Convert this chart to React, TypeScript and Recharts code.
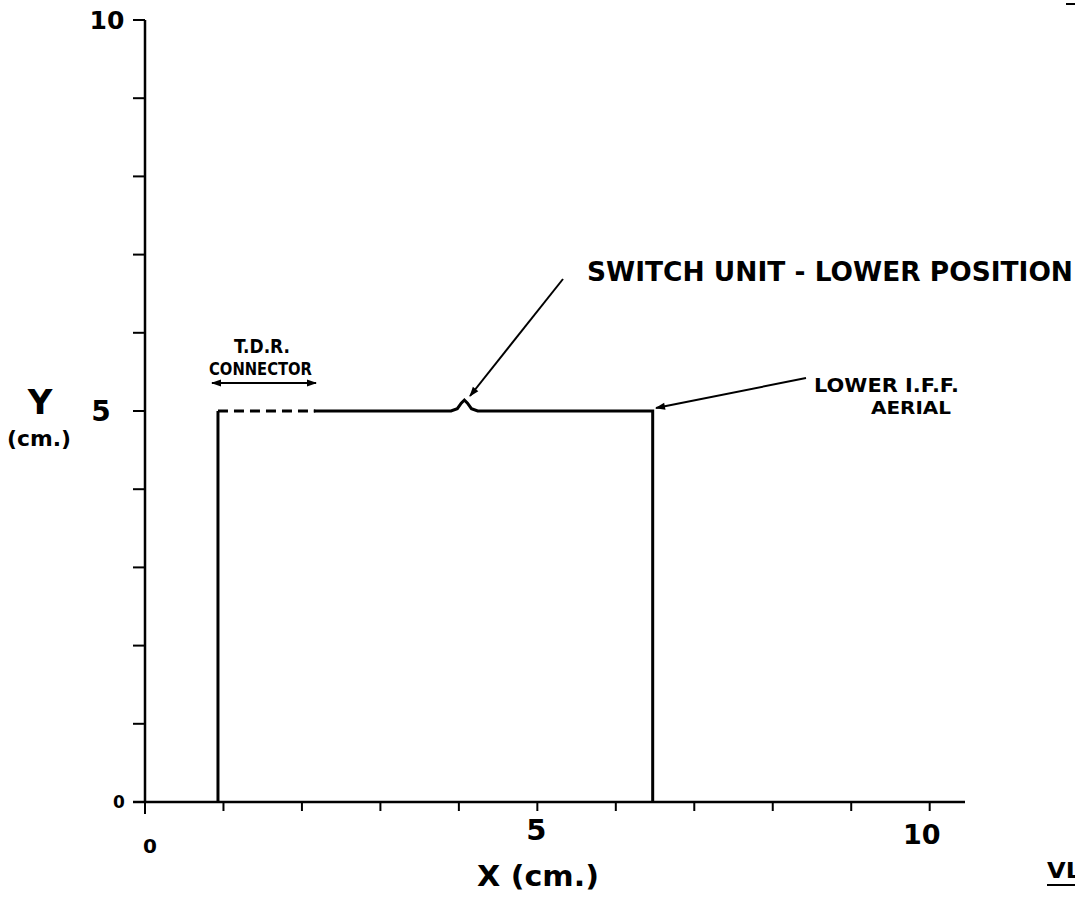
import { LineChart, Line, XAxis, YAxis } from 'recharts';

// axis ticks (cm)
const xTicks = [0, 1, 2, 3, 4, 5, 6, 7, 8, 9, 10];
const yTicks = [0, 1, 2, 3, 4, 5, 6, 7, 8, 9, 10];
const labelledTicks = [0, 5, 10];

// traced outline of the aerial (x, y in cm)
const leftEdge = [
  { x: 0.93, y: 0 },
  { x: 0.93, y: 5 },
];
const connectorRun = [
  { x: 0.93, y: 5 },
  { x: 2.17, y: 5 },
];
const switchAndAerial = [
  { x: 2.15, y: 5 },
  { x: 3.9, y: 5 },
  { x: 3.98, y: 5.03 },
  { x: 4.03, y: 5.1 },
  { x: 4.07, y: 5.14 },
  { x: 4.11, y: 5.1 },
  { x: 4.16, y: 5.03 },
  { x: 4.24, y: 5.0 },
  { x: 6.47, y: 5 },
  { x: 6.47, y: 0 },
];

const FONT = '"DejaVu Sans", sans-serif';
const INK = '#000';

const yLabelStyle: Record<number, { dx: number; dy: number; size: number }> = {
  0: { dx: -12, dy: 6, size: 17 },
  5: { dx: -30, dy: 10, size: 28 },
  10: { dx: -24, dy: 9, size: 25 },
};
const xLabelStyle: Record<number, { dx: number; dy: number; size: number }> = {
  0: { dx: 5, dy: 50, size: 20 },
  5: { dx: -1, dy: 37, size: 29 },
  10: { dx: -8, dy: 41, size: 27 },
};

function YTick(props: any) {
  const { x, y, payload } = props;
  const v = payload.value;
  if (!labelledTicks.includes(v)) return null;
  const s = yLabelStyle[v];
  return (
    <text x={x + s.dx} y={y + s.dy} fontFamily={FONT} fontWeight="bold" fontSize={s.size} textAnchor="middle" fill={INK}>
      {v}
    </text>
  );
}

function XTick(props: any) {
  const { x, y, payload } = props;
  const v = payload.value;
  if (!labelledTicks.includes(v)) return null;
  const s = xLabelStyle[v];
  return (
    <text x={x + s.dx} y={y + s.dy - 10} fontFamily={FONT} fontWeight="bold" fontSize={s.size} textAnchor="middle" fill={INK}>
      {v}
    </text>
  );
}

export default function App() {
  return (
    <div style={{ position: 'absolute', left: 0, top: 0, width: 1075, height: 897, background: '#fff' }}>
      <LineChart width={1075} height={897} margin={{ top: 20, right: 110, bottom: 55, left: 85 }}>
        <XAxis
          dataKey="x"
          type="number"
          domain={[0, 10.45]}
          ticks={xTicks}
          allowDataOverflow
          stroke={INK}
          strokeWidth={2.5}
          tickSize={9}
          tickLine={{ stroke: INK, strokeWidth: 2 }}
          height={40}
          tick={<XTick />}
        />
        <YAxis
          dataKey="y"
          type="number"
          domain={[0, 10]}
          ticks={yTicks}
          allowDataOverflow
          stroke={INK}
          strokeWidth={2.5}
          tickSize={12}
          tickLine={{ stroke: INK, strokeWidth: 2 }}
          width={60}
          tick={<YTick />}
        />
        <Line data={leftEdge} dataKey="y" type="linear" stroke={INK} strokeWidth={3} dot={false} isAnimationActive={false} />
        <Line
          data={connectorRun}
          dataKey="y"
          type="linear"
          stroke={INK}
          strokeWidth={3}
          strokeDasharray="10 6"
          dot={false}
          isAnimationActive={false}
        />
        <Line data={switchAndAerial} dataKey="y" type="linear" stroke={INK} strokeWidth={3} dot={false} isAnimationActive={false} />
      </LineChart>

      {/* hand-lettered annotations */}
      <svg width={1075} height={897} style={{ position: 'absolute', left: 0, top: 0, pointerEvents: 'none' }}>
        <defs>
          <marker id="head" viewBox="0 0 10 10" refX="9" refY="5" markerWidth="7" markerHeight="5" orient="auto-start-reverse">
            <path d="M0,1.5 L10,5 L0,8.5 z" fill={INK} />
          </marker>
        </defs>
        {/* axis overhangs */}
        <line x1={133} y1={802} x2={145} y2={802} stroke={INK} strokeWidth={2.5} />
        <line x1={145} y1={802} x2={145} y2={814} stroke={INK} strokeWidth={2} />
        <line x1={1066} y1={4} x2={1075} y2={4} stroke={INK} strokeWidth={2} />

        <g fontFamily={FONT} fontWeight="bold" fill={INK}>
          <text x={40} y={414} fontSize={34} textAnchor="middle">Y</text>
          <text x={39} y={446} fontSize={22} textAnchor="middle" textLength={64} lengthAdjust="spacingAndGlyphs">(cm.)</text>
          <text x={538} y={886} fontSize={29} textAnchor="middle" textLength={122} lengthAdjust="spacingAndGlyphs">X (cm.)</text>

          <text x={234} y={353} fontSize={19} textLength={56} lengthAdjust="spacingAndGlyphs">T.D.R.</text>
          <text x={209} y={375} fontSize={17} textLength={103} lengthAdjust="spacingAndGlyphs">CONNECTOR</text>
          <text x={587} y={281} fontSize={26} textLength={486} lengthAdjust="spacingAndGlyphs">SWITCH UNIT - LOWER POSITION</text>
          <text x={814} y={392} fontSize={19} textLength={145} lengthAdjust="spacingAndGlyphs">LOWER  I.F.F.</text>
          <text x={871} y={414} fontSize={18} textLength={80} lengthAdjust="spacingAndGlyphs">AERIAL</text>
          <text x={1047} y={878} fontSize={21} textLength={34} lengthAdjust="spacingAndGlyphs">VL</text>
        </g>
        <line x1={1047} y1={885} x2={1075} y2={885} stroke={INK} strokeWidth={2} />

        <line x1={212} y1={383} x2={316} y2={383} stroke={INK} strokeWidth={2} markerStart="url(#head)" markerEnd="url(#head)" />
        <line x1={563} y1={279} x2={470} y2={396} stroke={INK} strokeWidth={2} markerEnd="url(#head)" />
        <line x1={806} y1={378} x2={656} y2={408} stroke={INK} strokeWidth={2} markerEnd="url(#head)" />
      </svg>
    </div>
  );
}
